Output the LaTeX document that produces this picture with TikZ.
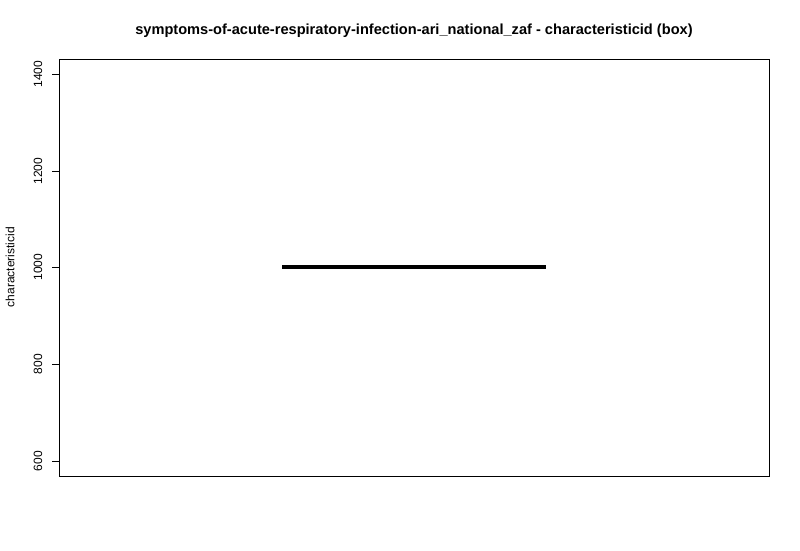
\documentclass[tikz,border=0pt]{standalone}
\usepackage{fontspec}
\setmainfont{Liberation Sans}
\usetikzlibrary{positioning}
\tikzset{
    tick label/.style={rotate=90, font=\fontsize{12}{14}\selectfont, inner sep=0},
    axis frame/.style={line width=1pt},
    median bar/.style={line width=3.5pt},
    }

\begin{document}
\begin{tikzpicture}
    [x=1pt, y=-1pt]

\useasboundingbox (0,0) rectangle (800,550);

% plot frame
\draw[axis frame] (59,59) rectangle (769,476);

% y axis and ticks
\draw[axis frame] (59,74) -- (59,461);
\foreach \yv/\ypos in {1400/74, 1200/171, 1000/267, 800/364, 600/461}{
    \draw[axis frame] (52,\ypos) -- (59,\ypos);
    \node[tick label] at (38,\ypos) {\yv};
}

% the box (all values equal)
\coordinate (med left) at (282,267);
\coordinate (med right) at (546,267);
\draw[median bar] (med left) -- (med right);

\node[font=\bfseries\fontsize{14.6}{17}\selectfont] (title) at (414,31) {symptoms-of-acute-respiratory-infection-ari\_national\_zaf - characteristicid (box)};
\node[rotate=90, font=\fontsize{12}{14}\selectfont] (ylab) at (10,267) {characteristicid};
\end{tikzpicture}
\end{document}
